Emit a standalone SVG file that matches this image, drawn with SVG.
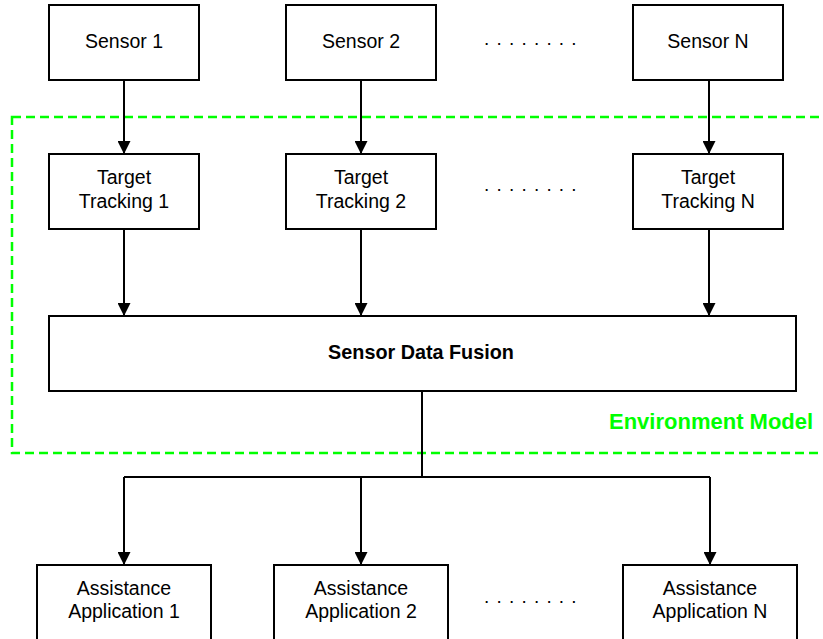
<svg xmlns="http://www.w3.org/2000/svg" width="823" height="639" viewBox="0 0 823 639">
  <style>
    .box { fill: #ffffff; stroke: #000000; stroke-width: 2; }
    .lbl { font-family: "Liberation Sans", Arial, Helvetica, sans-serif; font-size: 19.5px; fill: #000000; text-anchor: middle; }
    .bold { font-weight: bold; font-size: 19.8px; }
    .dots { font-family: "Liberation Sans", Arial, sans-serif; font-size: 19px; fill: #000000; letter-spacing: 7.2px; }
    .wire { fill: none; stroke: #000000; stroke-width: 2; }
    .env { fill: none; stroke: #00ff00; stroke-width: 2.5; stroke-dasharray: 9 5; }
    .envlbl { font-family: "Liberation Sans", Arial, sans-serif; font-size: 22px; font-weight: bold; fill: #00ff00; }
  </style>
  <defs>
    <marker id="arrow" viewBox="0 0 13 13" refX="13" refY="6.5" markerWidth="13" markerHeight="13" markerUnits="userSpaceOnUse" orient="auto">
      <path d="M0,0 L13,6.5 L0,13 Z" fill="#000000"/>
    </marker>
  </defs>
  <rect width="823" height="639" fill="#ffffff"/>

  <!-- environment model boundary -->
  <g id="environment-model">
    <rect class="env" x="12" y="117" width="830" height="336"/>
    <text class="envlbl" x="609" y="429">Environment Model</text>
  </g>

  <!-- connectors -->
  <g id="connectors">
    <path class="wire" d="M124,80 V154" marker-end="url(#arrow)"/>
    <path class="wire" d="M361,80 V154" marker-end="url(#arrow)"/>
    <path class="wire" d="M709,80 V154" marker-end="url(#arrow)"/>
    <path class="wire" d="M124,229 V316" marker-end="url(#arrow)"/>
    <path class="wire" d="M361,229 V316" marker-end="url(#arrow)"/>
    <path class="wire" d="M709,229 V316" marker-end="url(#arrow)"/>
    <path class="wire" d="M422,391 V477"/>
    <path class="wire" d="M124,477 H710"/>
    <path class="wire" d="M124,477 V565" marker-end="url(#arrow)"/>
    <path class="wire" d="M361,477 V565" marker-end="url(#arrow)"/>
    <path class="wire" d="M710,477 V565" marker-end="url(#arrow)"/>
  </g>

  <!-- sensors -->
  <g id="sensor-1">
    <rect class="box" x="49" y="5" width="150" height="75"/>
    <text class="lbl" x="124" y="48">Sensor 1</text>
  </g>
  <g id="sensor-2">
    <rect class="box" x="286" y="5" width="150" height="75"/>
    <text class="lbl" x="361" y="48">Sensor 2</text>
  </g>
  <g id="sensor-n">
    <rect class="box" x="633" y="5" width="150" height="75"/>
    <text class="lbl" x="708" y="48">Sensor N</text>
  </g>
  <text class="dots" x="484" y="45">........</text>

  <!-- target tracking -->
  <g id="tracking-1">
    <rect class="box" x="49" y="154" width="150" height="75"/>
    <text class="lbl" x="124" y="184">Target</text>
    <text class="lbl" x="124" y="208">Tracking 1</text>
  </g>
  <g id="tracking-2">
    <rect class="box" x="286" y="154" width="150" height="75"/>
    <text class="lbl" x="361" y="184">Target</text>
    <text class="lbl" x="361" y="208">Tracking 2</text>
  </g>
  <g id="tracking-n">
    <rect class="box" x="633" y="154" width="150" height="75"/>
    <text class="lbl" x="708" y="184">Target</text>
    <text class="lbl" x="708" y="208">Tracking N</text>
  </g>
  <text class="dots" x="484" y="191">........</text>

  <!-- fusion -->
  <g id="sensor-data-fusion">
    <rect class="box" x="49" y="316" width="747" height="75"/>
    <text class="lbl bold" x="421" y="359">Sensor Data Fusion</text>
  </g>

  <!-- applications -->
  <g id="application-1">
    <rect class="box" x="37" y="565" width="174" height="80"/>
    <text class="lbl" x="124" y="595">Assistance</text>
    <text class="lbl" x="124" y="618">Application 1</text>
  </g>
  <g id="application-2">
    <rect class="box" x="274" y="565" width="174" height="80"/>
    <text class="lbl" x="361" y="595">Assistance</text>
    <text class="lbl" x="361" y="618">Application 2</text>
  </g>
  <g id="application-n">
    <rect class="box" x="623" y="565" width="174" height="80"/>
    <text class="lbl" x="710" y="595">Assistance</text>
    <text class="lbl" x="710" y="618">Application N</text>
  </g>
  <text class="dots" x="484" y="603">........</text>
</svg>
